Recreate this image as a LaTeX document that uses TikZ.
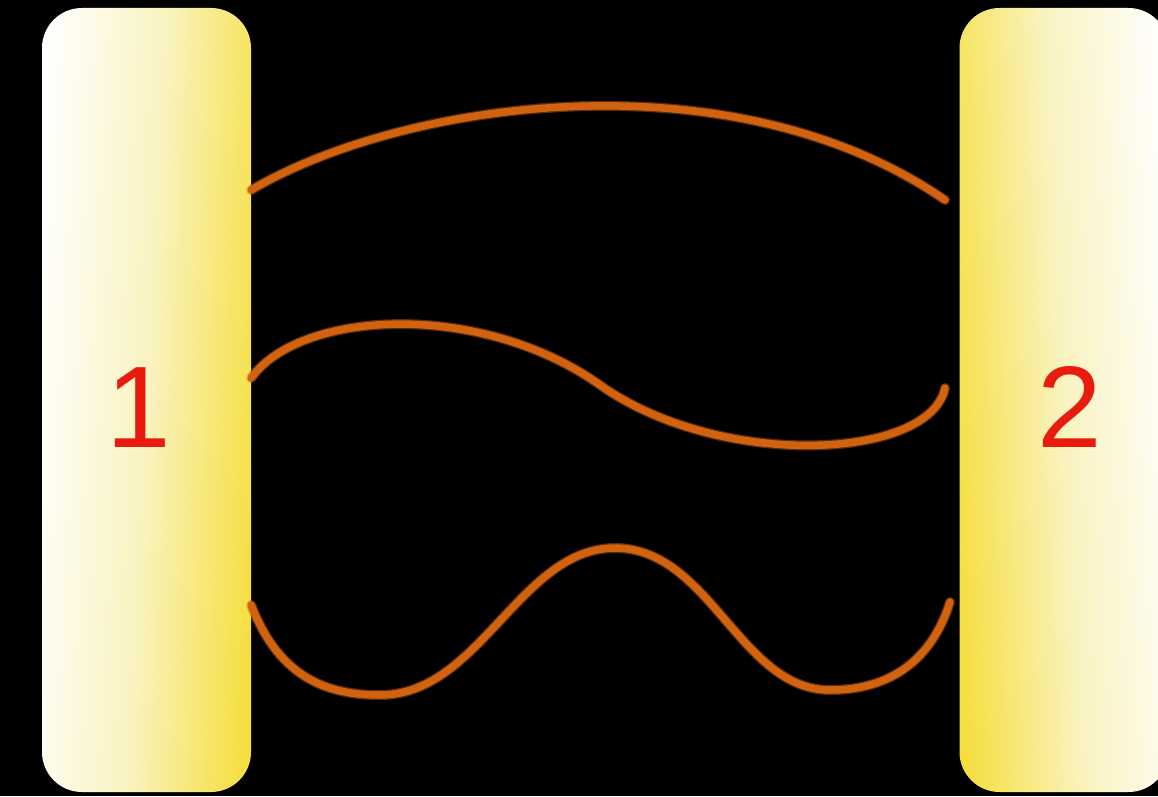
\documentclass[tikz,border=0pt]{standalone}
\usepackage{fontspec}
\setmainfont{Liberation Sans}
\definecolor{boxyellow}{RGB}{246,222,62}
\definecolor{boxpale}{RGB}{249,243,192}
\definecolor{labelred}{RGB}{232,28,14}
\definecolor{wire}{RGB}{208,98,16}
\tikzset{
  panel/.style={rounded corners=40pt, minimum width=209pt, minimum height=784pt, inner sep=0pt, draw=none},
  digit/.style={text=labelred, font=\fontsize{116}{116}\selectfont, inner sep=0pt, anchor=base},
  wirehalo/.style={draw=wire, draw opacity=0.45, line width=10pt, line cap=round, line join=round},
  wirestyle/.style={draw=wire, line width=7.5pt, line cap=round, line join=round}
}
\begin{document}
\begin{tikzpicture}[x=1pt,y=1pt]
\fill[black] (0,0) rectangle (1158,796);
\useasboundingbox (0,0) rectangle (1158,796);
\node[panel, left color=white, right color=boxyellow, middle color=boxpale, shading angle=87] (box1) at (146.5,396) {};
\node[panel, left color=boxyellow, right color=white, middle color=boxpale, shading angle=93] (box2) at (1064,396) {};
\node[digit] (label1) at (139,349) {1};
\node[digit] (label2) at (1070,349) {2};
\coordinate (a1) at (box1.east |- 0,606);
\coordinate (b1) at (945,596);
\coordinate (a2) at (box1.east |- 0,418);
\coordinate (b2) at (945,408);
\coordinate (a3) at (box1.east |- 0,191);
\coordinate (b3) at (950,194);
\foreach \s in {wirehalo, wirestyle}{
\path[\s] (a1) .. controls (400,694) and (730,744) .. (b1);
\path[\s] (a2) .. controls (300,486) and (480,496) .. (600,411)
  .. controls (720,326) and (930,336) .. (b2);
\path[\s] (a3) .. controls (280,116) and (330,101) .. (380,101)
  .. controls (480,101) and (520,248) .. (615,248)
  .. controls (710,248) and (740,106) .. (830,106)
  .. controls (900,106) and (935,146) .. (b3);
}
\end{tikzpicture}
\end{document}
